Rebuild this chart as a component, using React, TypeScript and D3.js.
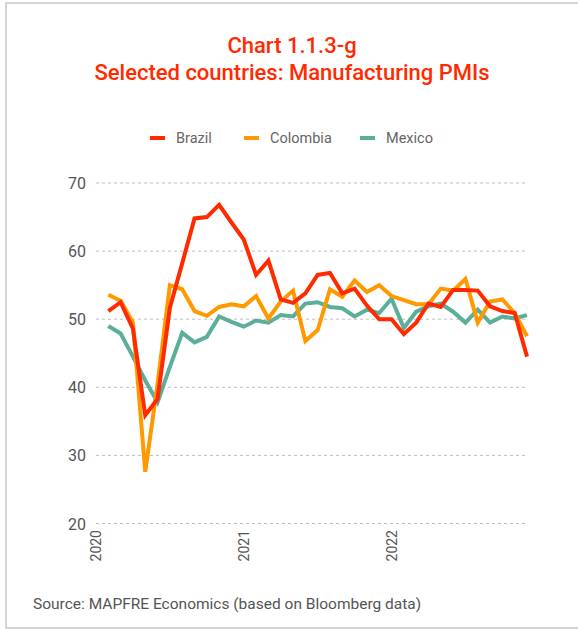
import React from "react";
import * as d3 from "d3";

const months = [
  "2020-01","2020-02","2020-03","2020-04","2020-05","2020-06","2020-07","2020-08","2020-09","2020-10","2020-11","2020-12",
  "2021-01","2021-02","2021-03","2021-04","2021-05","2021-06","2021-07","2021-08","2021-09","2021-10","2021-11","2021-12",
  "2022-01","2022-02","2022-03","2022-04","2022-05","2022-06","2022-07","2022-08","2022-09","2022-10","2022-11",
];

const brazil = [
  51.2, 52.5, 48.6, 35.9, 38.3, 51.7, 58.2, 64.8, 65.0, 66.8, 64.2, 61.7,
  56.5, 58.6, 52.9, 52.4, 53.8, 56.5, 56.8, 53.8, 54.5, 52.0, 50.0, 50.0,
  47.8, 49.5, 52.3, 51.8, 54.3, 54.3, 54.2, 51.9, 51.2, 50.9, 44.5,
];
const colombia = [
  53.6, 52.7, 49.5, 27.6, 40.5, 55.0, 54.4, 51.2, 50.5, 51.8, 52.2, 51.9,
  53.4, 50.1, 52.6, 54.2, 46.8, 48.4, 54.4, 53.3, 55.7, 54.0, 55.0, 53.4,
  52.8, 52.2, 52.2, 54.5, 54.2, 55.9, 49.5, 52.6, 52.9, 50.9, 47.5,
];
const mexico = [
  49.0, 47.9, 44.5, 41.0, 37.8, 43.0, 48.0, 46.6, 47.4, 50.4, 49.6, 48.9,
  49.8, 49.5, 50.6, 50.4, 52.3, 52.5, 51.8, 51.6, 50.4, 51.4, 50.9, 53.0,
  48.7, 51.1, 51.9, 52.3, 51.1, 49.5, 51.4, 49.5, 50.4, 50.1, 50.6,
];

const yTicks = [20, 30, 40, 50, 60, 70];
const yearLabels = ["2020", "2021", "2022"];
const seriesNames = ["Brazil", "Colombia", "Mexico"];
const seriesColors = ["#FF2A00", "#FF9900", "#5BAE9A"];
const titleLines = ["Chart 1.1.3-g", "Selected countries: Manufacturing PMIs"];
const sourceText = "Source: MAPFRE Economics (based on Bloomberg data)";

export default function App() {
  const W = 578, H = 630;
  const x = d3.scaleLinear().domain([-1, months.length - 1]).range([96, 527]);
  const y = d3.scaleLinear().domain([20, 70]).range([523.5, 183]);
  const line = d3.line<number>().x((_, i) => x(i)).y((d) => y(d));
  const data = [brazil, colombia, mexico];
  const drawOrder = [2, 1, 0];
  const legendX = [150, 244, 360];
  const font = "Roboto, 'DejaVu Sans', sans-serif";

  return (
    <svg width={W} height={H} style={{ position: "absolute", left: 0, top: 0 }} fontFamily={font}>
      <rect x={0} y={0} width={W} height={H} fill="#fff" />
      <rect x={6} y={3} width={640} height={625} fill="none" stroke="#c8c8c8" strokeWidth={1.5} />
      {titleLines.map((t, i) => (
        <text key={t} x={292} y={53 + i * 27} textAnchor="middle" fill="#FF2A00" fontSize={22} fontWeight={500}>
          {t}
        </text>
      ))}
      {seriesNames.map((n, i) => (
        <g key={n}>
          <line x1={legendX[i]} x2={legendX[i] + 15} y1={138} y2={138} stroke={seriesColors[i]} strokeWidth={4} />
          <text x={legendX[i] + 26} y={143} fontSize={14.5} fill="#666">{n}</text>
        </g>
      ))}
      {yTicks.map((t) => (
        <g key={t}>
          <line x1={96} x2={527} y1={y(t)} y2={y(t)} stroke="#bdbdbd" strokeWidth={1} strokeDasharray="3,3" />
          <text x={86} y={y(t) + 6} textAnchor="end" fontSize={16} fill="#555">{t}</text>
        </g>
      ))}
      {yearLabels.map((lab, k) => {
        const xi = x(k * 12 - 1);
        return (
          <text key={lab} transform={`translate(${xi + 5},530) rotate(-90)`} textAnchor="end" fontSize={14} fill="#555">
            {lab}
          </text>
        );
      })}
      {drawOrder.map((si) => (
        <path key={si} d={line(data[si]) || ""} fill="none" stroke={seriesColors[si]} strokeWidth={4} strokeLinejoin="miter" />
      ))}
      <text x={33} y={609} fontSize={15.5} fill="#555">{sourceText}</text>
    </svg>
  );
}
